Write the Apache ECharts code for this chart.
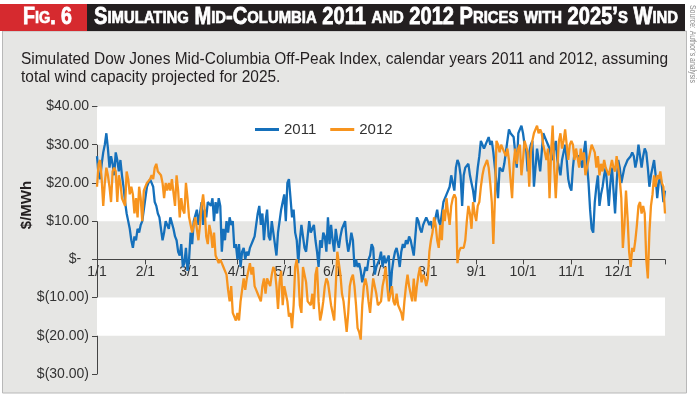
<!DOCTYPE html>
<html>
<head>
<meta charset="utf-8">
<title>Fig. 6 Mid-Columbia prices</title>
<script src="https://cdn.jsdelivr.net/npm/echarts@6/dist/echarts.min.js"></script>
<style>
  html, body { margin: 0; padding: 0; background: #fff; }
  #chart { width: 700px; height: 396px; }
</style>
</head>
<body>
<div id="chart"></div>
<script>
// days per month (2011 calendar), used to build the daily categories
const monthDays = [31, 28, 31, 30, 31, 30, 31, 31, 30, 31, 30, 31];

// white bands behind the plot ($/MWh ranges)
const whiteBands = [[30, 40], [10, 20], [-20, -10]];

// simulated daily off-peak index, $/MWh
const price2011 = [
  27, 22, 21, 25, 28, 30, 33, 29, 24, 27,
  25, 22, 28, 26, 23, 26, 22, 19, 15, 12,
  10, 8, 5, 3, 6, 5, 8, 7, 9, 10,
  13, 16, 19, 20, 21, 20, 19, 15, 14, 12,
  11, 8, 5, 7, 10, 9, 8, 11, 11, 8,
  6, 5, 2, 1, 4, -2, -1, 3, -3, 0,
  7, 4, 10, 10, 13, 9, 12, 15, 9, 13,
  11, 15, 15, 14, 16, 10, 15, 12, 16, 14,
  2, 8, 5, 10, 7, 11, 9, 10, 3, 4,
  0, 4, -2, 2, 3, 0, 2, 1, 3, 4,
  5, 6, 9, 12, 14, 9, 12, 5, 10, 13,
  6, 5, 10, 7, 4, 1, 7, 10, 13, 15,
  17, 10, 20, 21, 16, 11, 13, 7, 5, -1,
  5, 9, 9, 3, 2, 6, 10, 7, 8, 9,
  5, 2, -2, 5, 3, 7, 6, 2, 11, 4,
  9, 5, 2, 8, 5, 3, 6, 8, 9, 10,
  5, 2, 4, 7, 5, -2, 0, -2, -1, -3,
  -6, -4, -2, -3, 0, 1, 4, 3, -4, -2,
  -1, 0, 2, -2, 1, -1, 0, 1, -9, -3,
  0, 2, 3, 1, -2, 2, 4, 3, 5, 4,
  6, 5, 3, 1, 6, 11, 10, 8, 7, 9,
  10, 11, 10, 9, 10, 8, 9, 11, 13, 10,
  9, 12, 15, 16, 17, 18, 19, 22, 20, 18,
  24, 26, 25, 22, 14, 22, 24, 24, 25, 22,
  20, 18, 15, 20, 24, 27, 31, 30, 29, 30,
  31, 32, 30, 31, 28, 24, 20, 16, 24, 24,
  23, 25, 28, 31, 34, 33, 33, 32, 32, 24,
  33, 34, 35, 33, 30, 29, 23, 28, 30, 31,
  19, 24, 29, 26, 23, 28, 33, 32, 32, 30,
  29, 27, 26, 29, 31, 26, 24, 22, 26, 28,
  30, 26, 21, 19, 18, 24, 28, 27, 27, 27,
  27, 24, 28, 31, 25, 20, 13, 8, 7, 15,
  19, 22, 14, 17, 19, 22, 24, 19, 14, 20,
  24, 18, 12, 20, 26, 24, 20, 22, 24, 25,
  26, 26, 27, 28, 27, 24, 26, 30, 30, 24,
  27, 29, 28, 24, 19, 22, 24, 26, 22, 16,
  20, 22, 19, 15, 18
];

const price2012 = [
  19, 25, 26, 21, 14, 20, 24, 22, 19, 15,
  23, 24, 23, 15, 22, 20, 16, 15, 14, 23,
  21, 17, 19, 17, 12, 16, 11, 19, 16, 10,
  18, 19, 20, 20, 21, 22, 21, 24, 25, 23,
  23, 22, 20, 16, 20, 18, 20, 18, 21, 21,
  14, 22, 18, 11, 16, 13, 12, 20, 16, 11,
  9, 7, 7, 11, 8, 5, 9, 14, 17, 13,
  6, 4, 9, 7, 3, 7, 1, 1, -1, 0,
  -1, -2, -3, -4, -8, -11, -7, -14, -14, -16,
  -14, -16, -11, -8, -5, -8, -5, -3, -1, -4,
  -2, -7, -8, -9, -10, -11, -7, -5, -9, -5,
  -6, -7, -4, -2, -3, -7, -13, -6, -3, -12,
  -7, -9, -11, -15, -14, -18, -12, -2, 0, -4,
  -12, -14, -2, -4, -6, -11, -11, -12, -9, -13,
  -4, -2, -11, -16, -14, -11, -7, -5, -6, -9,
  -12, -14, -16, -7, 2, 2, -4, -9, -11, -15,
  -19, -14, -7, -5, -4, -7, -12, -18, -19, -21,
  -12, -7, -5, -7, -11, -14, -9, -5, -7, -9,
  -12, -12, -11, -7, -5, -2, -7, -11, -9, -7,
  -11, -12, -9, -12, -13, -14, -16, -11, -7, -4,
  -7, -9, -11, -5, -11, -7, -4, -2, -6, -4,
  -5, -7, -5, 2, 5, 7, 11, 9, 5, 3,
  9, 5, 13, 10, 16, 12, 9, 14, 16, 17,
  16, -1, 2, 3, 3, 3, 5, 10, 14, 12,
  8, 15, 12, 10, 14, 15, 19, 22, 24, 25,
  26, 24, 20, 15, 4, 16, 31, 30, 28, 30,
  30, 28, 27, 29, 26, 21, 16, 25, 29, 25,
  29, 30, 22, 26, 31, 31, 28, 19, 28, 31,
  33, 34, 35, 33, 34, 33, 30, 28, 26, 29,
  16, 28, 35, 24, 16, 24, 31, 33, 29, 31,
  34, 34, 26, 30, 31, 30, 26, 29, 29, 24,
  29, 26, 28, 22, 24, 26, 28, 30, 30, 28,
  24, 27, 22, 25, 23, 26, 24, 23, 22, 24,
  26, 24, 23, 27, 24, 21, 16, 3, 9, 18,
  11, 2, -2, 3, 2, 5, 9, 14, 15, 12,
  14, 12, 0, -5, 7, 14, 17, 22, 19, 22,
  21, 23, 20, 19, 12
];

const titleText = 'Simulating Mid-Columbia 2011 and 2012 Prices with 2025\u2019s Wind';
const subtitleLines = [
  'Simulated Dow Jones Mid-Columbia Off-Peak Index, calendar years 2011 and 2012, assuming',
  'total wind capacity projected for 2025.'
];

const days = [];
monthDays.forEach((n, m) => {
  for (let d = 1; d <= n; d++) days.push((m + 1) + '/' + d);
});

const sans = '"Liberation Sans", Arial, sans-serif';

// text measuring, used to squeeze the headings into condensed widths
const ctx = document.createElement('canvas').getContext('2d');
function measure(text, font) {
  ctx.font = font;
  return ctx.measureText(text).width;
}

const BIG = 23, SMALL = 17;
const capsRich = {
  b: { fontFamily: sans, fontWeight: 'bold', fontSize: BIG, fill: '#fff', stroke: '#fff', lineWidth: 0.8 },
  s: { fontFamily: sans, fontWeight: 'bold', fontSize: SMALL, fill: '#fff', stroke: '#fff', lineWidth: 0.7 }
};

// fake small caps: lowercase letters drawn as smaller capitals
function smallCaps(str) {
  const parts = [];
  for (const ch of str) {
    const t = (ch >= 'a' && ch <= 'z') ? 's' : 'b';
    const c = t === 's' ? ch.toUpperCase() : ch;
    if (parts.length && parts[parts.length - 1][0] === t) parts[parts.length - 1][1] += c;
    else parts.push([t, c]);
  }
  let text = '', width = 0;
  parts.forEach(([t, s]) => {
    text += '{' + t + '|' + s + '}';
    width += measure(s, 'bold ' + (t === 'b' ? BIG : SMALL) + 'px ' + sans);
  });
  return { text, width };
}

const figCaps = smallCaps('Fig. 6');
const titleCaps = smallCaps(titleText);
const subFont = '16px ' + sans;
const subScale = 647 / measure(subtitleLines[0], subFont);
const srcFont = '9px ' + sans;
const srcScale = 78 / measure('Source: Author\u2019s analysis', srcFont);

function moneyLabel(v) {
  if (v === 0) return '$-  ';
  if (v < 0) return '$(' + Math.abs(v).toFixed(2) + ')';
  return '$' + v.toFixed(2);
}

const isMonthStart = (idx, val) => /\/1$/.test(val);

const chart = echarts.init(document.getElementById('chart'));

const option = {
  animation: false,
  backgroundColor: '#fff',
  graphic: [
    {
      type: 'rect', z: -10,
      shape: { x: 2.5, y: 31, width: 684, height: 362 },
      style: { fill: '#e6e6e4', stroke: '#b8b8b8', lineWidth: 1 }
    },
    {
      type: 'rect',
      shape: { x: 0, y: 4, width: 685, height: 27 },
      style: { fill: '#231f20' }
    },
    {
      type: 'rect',
      shape: { x: 0, y: 4, width: 87, height: 27 },
      style: { fill: '#d62a2f' }
    },
    {
      type: 'text', x: 47.5, y: 18, scaleX: 49 / figCaps.width,
      style: {
        text: figCaps.text, rich: capsRich,
        align: 'center', verticalAlign: 'middle'
      }
    },
    {
      type: 'text', x: 94, y: 18, scaleX: 584 / titleCaps.width,
      style: {
        text: titleCaps.text, rich: capsRich,
        align: 'left', verticalAlign: 'middle'
      }
    },
    {
      type: 'text', x: 21, y: 60, scaleX: subScale,
      style: {
        text: subtitleLines[0],
        fontFamily: sans, fontSize: 16, fill: '#231f20', verticalAlign: 'middle'
      }
    },
    {
      type: 'text', x: 21, y: 78, scaleX: subScale,
      style: {
        text: subtitleLines[1],
        fontFamily: sans, fontSize: 16, fill: '#231f20', verticalAlign: 'middle'
      }
    },
    {
      type: 'text', x: 692.5, y: 5, rotation: -Math.PI / 2, scaleX: srcScale,
      style: {
        text: 'Source: Author\u2019s analysis',
        fontFamily: sans, fontSize: 9, fill: '#8a8a8a',
        align: 'left', verticalAlign: 'middle'
      }
    },
    {
      type: 'text', x: 27, y: 205, rotation: Math.PI / 2,
      style: {
        text: '$/MWh',
        fontFamily: sans, fontWeight: 'bold', fontSize: 15, fill: '#231f20',
        align: 'center', verticalAlign: 'middle'
      }
    }
  ],
  legend: {
    data: ['2011', '2012'],
    left: 250,
    top: 117,
    icon: 'rect',
    itemWidth: 24,
    itemHeight: 3,
    itemGap: 14,
    textStyle: { fontFamily: sans, fontSize: 15, color: '#333' }
  },
  grid: { left: 97, right: 35, top: 106.5, bottom: 22 },
  xAxis: {
    type: 'category',
    data: days,
    boundaryGap: false,
    position: 'bottom',
    offset: -114.6, // axis sits on the $0 line
    axisLine: { onZero: false, lineStyle: { color: '#444', width: 1 } },
    axisTick: {
      length: 5,
      lineStyle: { color: '#444' },
      interval: (idx, val) => isMonthStart(idx, val) || idx === days.length - 1
    },
    axisLabel: {
      interval: isMonthStart,
      fontFamily: sans, fontSize: 14, color: '#333', margin: 6
    },
    splitLine: { show: false }
  },
  yAxis: {
    type: 'value',
    min: -30,
    max: 40,
    interval: 10,
    axisLine: { show: true, lineStyle: { color: '#444', width: 1 } },
    axisTick: { show: true, length: 5, lineStyle: { color: '#444' } },
    axisLabel: {
      formatter: moneyLabel,
      fontFamily: sans, fontSize: 14, color: '#333', margin: 8
    },
    splitLine: { show: false }
  },
  series: [
    {
      name: 'bands',
      type: 'line',
      data: [],
      silent: true,
      z: 1,
      markArea: {
        silent: true,
        itemStyle: { color: '#fff' },
        data: whiteBands.map(b => [{ yAxis: b[0] }, { yAxis: b[1] }])
      }
    },
    {
      name: '2011',
      type: 'line',
      data: price2011,
      symbol: 'none',
      z: 3,
      color: '#1570bb',
      lineStyle: { width: 2.3, color: '#1570bb' }
    },
    {
      name: '2012',
      type: 'line',
      data: price2012,
      symbol: 'none',
      z: 4,
      color: '#f7941e',
      lineStyle: { width: 2.3, color: '#f7941e' }
    }
  ]
};

chart.setOption(option);
</script>
</body>
</html>
